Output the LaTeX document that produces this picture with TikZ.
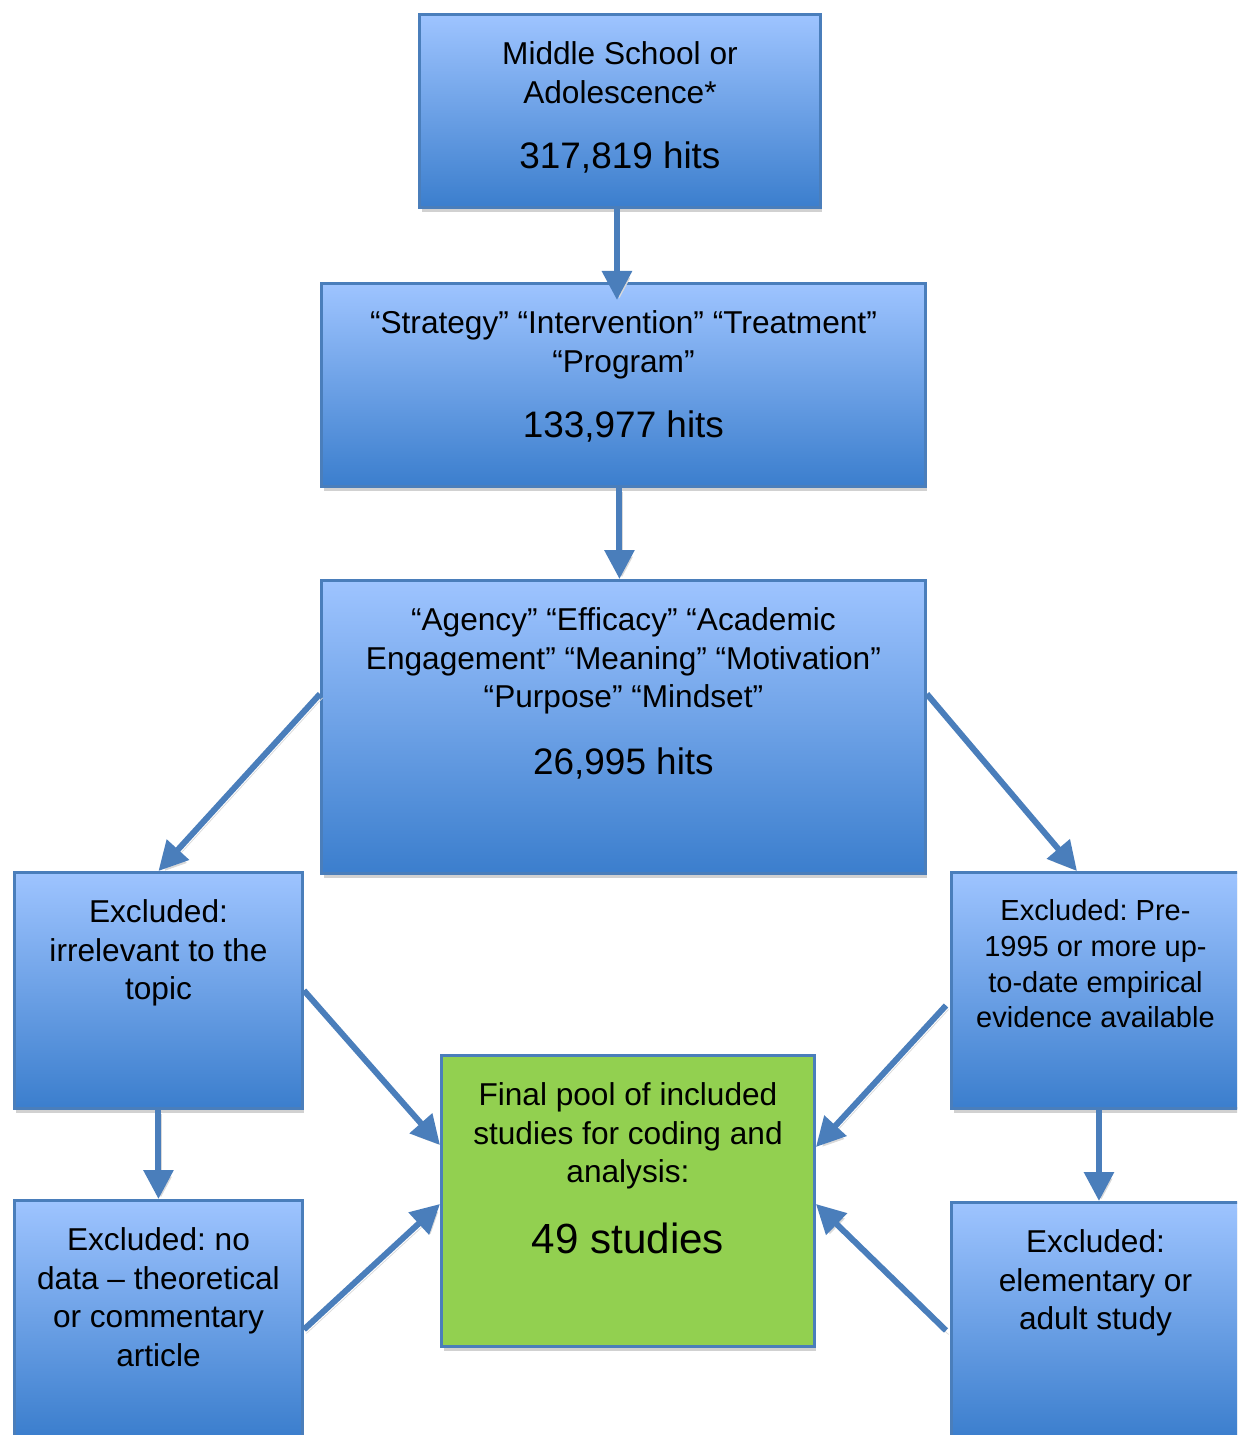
\documentclass[tikz,border=0pt]{standalone}
\usepackage{fontspec}
\setmainfont{Liberation Sans}
\frenchspacing
\usetikzlibrary{arrows.meta,shadows}
\definecolor{boxtop}{HTML}{9EC4FF}
\definecolor{boxbottom}{HTML}{3B7ECD}
\definecolor{boxline}{HTML}{4A7EBB}
\definecolor{poolgreen}{HTML}{92D050}
\newcommand{\hitcount}[1]{{\fontsize{21}{25}\selectfont #1}}

\begin{document}
\begin{tikzpicture}[x=0.02cm,y=-0.02cm]
                        \tikzstyle{stage}=[draw=boxline, line width=0.06cm, top color=boxtop, bottom color=boxbottom, anchor=north west, inner sep=0pt, drop shadow={shadow xshift=0.04cm, shadow yshift=-0.1cm, fill=black!18, opacity=1}]
                        \tikzstyle{pool}=[stage, fill=poolgreen, top color=poolgreen, bottom color=poolgreen]
                        \tikzstyle{txt}=[anchor=north, align=center, inner sep=0pt, font=\fontsize{18}{22}\selectfont]
                        \tikzstyle{flow}=[draw=boxline, line width=0.12cm, -{Triangle[width=0.58cm,length=0.58cm]}, preaction={draw=black!15, transform canvas={shift={(0.05cm,-0.08cm)}}}]
                        \clip (0,0) rectangle (1237,1435);
                        \node[stage, minimum width=8.02cm, minimum height=3.86cm] (search) at (418,13) {};
                        \node[stage, minimum width=12.08cm, minimum height=4.06cm] (terms) at (320,282) {};
                        \node[stage, minimum width=12.08cm, minimum height=5.86cm] (outcomes) at (320,579) {};
                        \node[stage, minimum width=5.76cm, minimum height=4.72cm] (topic) at (13,871) {};
                        \node[stage, minimum width=5.76cm, minimum height=4.72cm] (dated) at (950,871) {};
                        \node[stage, minimum width=5.76cm, minimum height=4.72cm] (nodata) at (13,1199) {};
                        \node[stage, minimum width=5.76cm, minimum height=4.72cm] (sample) at (950,1201) {};
                        \node[pool, minimum width=7.46cm, minimum height=5.82cm] (final) at (440,1054) {};
                        \node[txt] (searchtxt) at ([yshift=-0.48cm]search.north) {\strut Middle School or\\Adolescence*\\[15pt]\hitcount{317,819 hits}};
                        \node[txt] (termstxt) at ([yshift=-0.48cm]terms.north) {\strut “Strategy” “Intervention” “Treatment”\\“Program”\\[15pt]\hitcount{133,977 hits}};
                        \node[txt] (outcomestxt) at ([yshift=-0.48cm]outcomes.north) {\strut “Agency” “Efficacy” “Academic\\Engagement” “Meaning” “Motivation”\\“Purpose” “Mindset”\\[16pt]\hitcount{26,995 hits}};
                        \node[txt] (topictxt) at ([yshift=-0.48cm]topic.north) {\strut Excluded:\\irrelevant to the\\topic};
                        \node[txt, font=\fontsize{16.5}{20.4}\selectfont] (datedtxt) at ([yshift=-0.48cm]dated.north) {\strut Excluded: Pre-\\1995 or more up-\\to-date empirical\\evidence available};
                        \node[txt] (nodatatxt) at ([yshift=-0.48cm]nodata.north) {\strut Excluded: no\\data – theoretical\\or commentary\\article};
                        \node[txt] (sampletxt) at ([yshift=-0.48cm]sample.north) {\strut Excluded:\\elementary or\\adult study};
                        \node[txt] (finaltxt) at ([yshift=-0.48cm]final.north) {\strut Final pool of included\\studies for coding and\\analysis:\\[18pt]{\fontsize{24}{28}\selectfont 49 studies}};
                        \draw[flow] ([xshift=-0.06cm]search.south) -- ([xshift=-0.06cm,yshift=-0.36cm]search.south |- terms.north);
                        \draw[flow] ([xshift=-0.08cm]terms.south) -- ([xshift=-0.08cm]outcomes.north);
                        \draw[flow] ([yshift=0.66cm]outcomes.west) -- (topic.north);
                        \draw[flow] ([yshift=0.66cm]outcomes.east) -- ([xshift=-0.37cm]dated.north);
                        \draw[flow] (topic.east) -- ([yshift=1.12cm]final.west);
                        \draw[flow] ([yshift=-0.22cm]nodata.east) -- ([yshift=-0.06cm]final.west);
                        \draw[flow] ([xshift=-0.08cm,yshift=-0.3cm]dated.west) -- ([yshift=1.08cm]final.east);
                        \draw[flow] ([xshift=-0.08cm,yshift=-0.2cm]sample.west) -- ([yshift=-0.06cm]final.east);
                        \draw[flow] (topic.south) -- (nodata.north);
                        \draw[flow] ([xshift=0.07cm]dated.south) -- ([xshift=0.07cm]sample.north);
\end{tikzpicture}
\end{document}
